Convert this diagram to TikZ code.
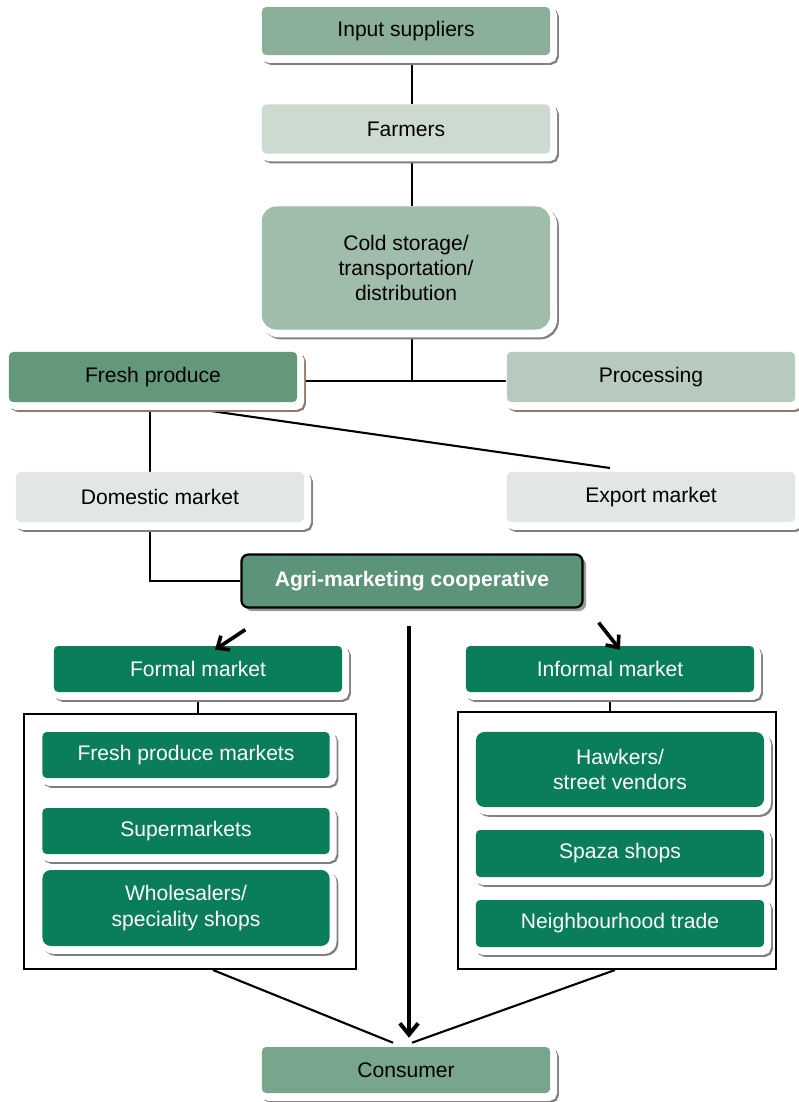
\documentclass[tikz,border=0pt]{standalone}
\usepackage{fontspec}
\setmainfont{Liberation Sans}
\usepackage{xcolor}
\usepackage{tikz}
\usetikzlibrary{shadows,calc,backgrounds,arrows.meta}

\definecolor{inpcol}{RGB}{139,175,152}
\definecolor{farmcol}{RGB}{205,218,208}
\definecolor{coldcol}{RGB}{160,189,171}
\definecolor{freshcol}{RGB}{100,152,123}
\definecolor{proccol}{RGB}{182,203,189}
\definecolor{mktcol}{RGB}{226,231,227}
\definecolor{coopcol}{RGB}{91,148,121}
\definecolor{dkgreen}{RGB}{10,125,91}
\definecolor{conscol}{RGB}{120,166,141}
\definecolor{shbrown}{RGB}{150,120,105}

\tikzset{
  box/.style={rounded corners=3pt, minimum width=7.2cm, minimum height=1.2cm,
    inner sep=0pt, align=center, font=\fontsize{15}{18}\selectfont,
    general shadow={fill=#1, draw=#1, line width=5.7pt, shadow xshift=3.4pt, shadow yshift=-4.1pt},
    general shadow={fill=white, draw=white, line width=5.7pt, shadow xshift=2.1pt, shadow yshift=-2.8pt}},
  box/.default=black!50,
  mkt/.style={box, fill=dkgreen, text=white, minimum height=1.15cm},
  coopbox/.style={rounded corners=5pt, draw=black, line width=1.6pt, fill=coopcol,
    text=white, minimum width=8.525cm, minimum height=1.325cm,
    font=\fontsize{15}{18}\selectfont\bfseries,
    drop shadow={shadow xshift=2.5pt, shadow yshift=-2.5pt, fill=gray!80, opacity=1}},
  grp/.style={draw, line width=1.4pt, inner sep=0pt},
  link/.style={line width=1.5pt}
}

\begin{document}
\begin{tikzpicture}[x=0.025cm, y=-0.025cm]
\useasboundingbox (0,0) rectangle (799,1102);

\node[box, fill=inpcol] (inp) at (406,31) {Input suppliers};
\node[box, fill=farmcol, minimum height=1.225cm] (farm) at (406,129) {Farmers};
\node[box, fill=coldcol, rounded corners=10pt, minimum height=3.075cm] (cold) at (406,268)
  {Cold storage/\\transportation/\\distribution};

\node[box=shbrown, fill=freshcol, minimum height=1.25cm] (fresh) at (153,377) {Fresh produce};
\node[box=shbrown, fill=proccol, minimum height=1.25cm] (proc) at (651,377) {Processing};
\node[box, fill=mktcol, minimum height=1.25cm] (dom) at (160,497) {Domestic market};
\node[box, fill=mktcol, minimum height=1.25cm] (exp) at (651,497) {Export market};

\node[coopbox] (coop) at (412,581) {Agri-marketing cooperative};

\node[mkt] (formal) at (198,669) {Formal market};
\node[mkt] (informal) at (610,669) {Informal market};

\node[grp, minimum width=8.3cm, minimum height=6.375cm] (fleft) at (190,841.5) {};
\node[grp, minimum width=7.95cm, minimum height=6.425cm] (fright) at (617,840.5) {};

\node[mkt, minimum width=7.175cm] (fpm) at (186,755) {Fresh produce markets};
\node[mkt, minimum width=7.175cm] (super) at (186,831) {Supermarkets};
\node[mkt, minimum width=7.175cm, minimum height=1.9cm, rounded corners=6pt] (whole) at (186,908)
  {Wholesalers/\\speciality shops};

\node[mkt, minimum height=1.875cm, rounded corners=6pt] (hawk) at (620,769.5) {Hawkers/\\street vendors};
\node[mkt, minimum height=1.175cm] (spaza) at (620,853.5) {Spaza shops};
\node[mkt, minimum height=1.175cm] (neigh) at (620,923.5) {Neighbourhood trade};

\node[box, fill=conscol, minimum height=1.15cm] (cons) at (406,1070) {Consumer};

\coordinate (jn) at (412,381);
\coordinate (expin) at (610,468);

\begin{scope}[on background layer]
\draw[link] ($(inp.south)+(6,0)$) -- ($(farm.north)+(6,0)$);
\draw[link] ($(farm.south)+(6,0)$) -- ($(cold.north)+(6,0)$);
\draw[link] (cold.south -| jn) -- (jn);
\draw[link] (fresh.east |- jn) -- (proc.west |- jn);
\draw[link] ($(fresh.south)+(-3,0)$) -- ($(dom.north)+(-10,0)$);
\draw[link] ($(fresh.south)+(-3,0)$) -- (expin);
\draw[link] ($(dom.south)+(-10,0)$) |- (coop.west);
\draw[link] (formal.south) -- (formal.south |- fleft.north);
\draw[link] (informal.south) -- (informal.south |- fright.north);
\draw[link] ($(fleft.south)+(23,0)$) -- ($(cons.north)+(-13,-4)$);
\draw[link] ($(fright.south)+(-2,0)$) -- ($(cons.north)+(6,-4)$);
\end{scope}

\draw[->,>={Straight Barb[length=7pt,width=12pt]}, line width=2.6pt]
  ($(coop.south west)+(5,21)$) -- ($(formal.north)+(17,4)$);
\draw[->,>={Straight Barb[length=7pt,width=12pt]}, line width=2.6pt]
  ($(coop.south east)+(15,14)$) -- ($(informal.north)+(10,4)$);
\draw[->,>={Straight Barb[length=8pt,width=13pt]}, line width=2.8pt]
  ($(coop.south)+(-3,17)$) -- ($(cons.north)+(3,-9)$);
\end{tikzpicture}
\end{document}
